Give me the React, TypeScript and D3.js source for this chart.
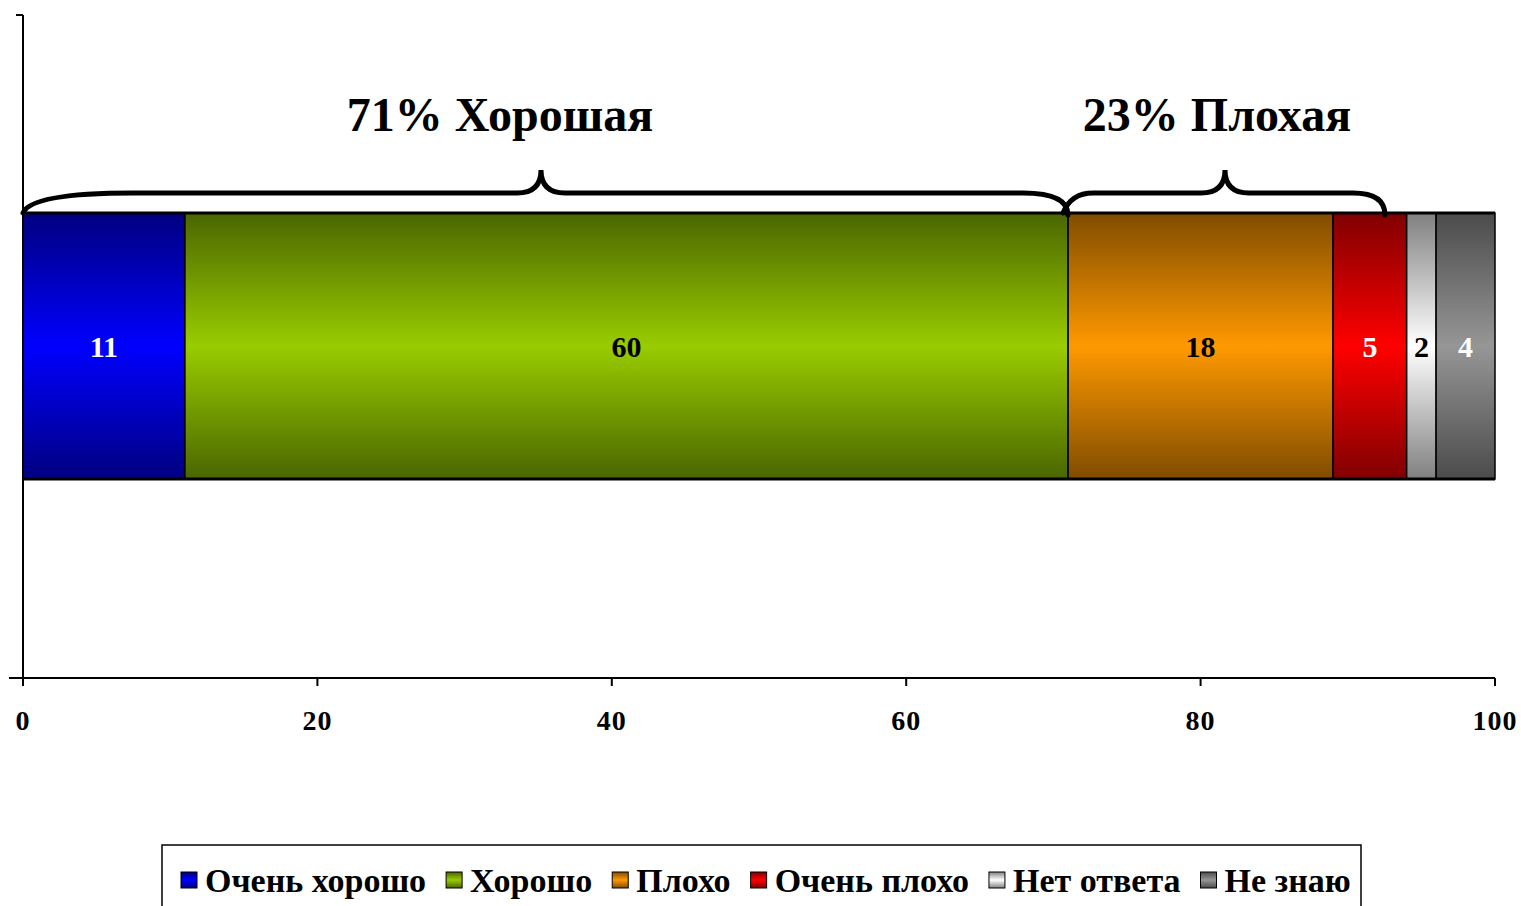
import React, { useEffect, useRef } from "react";
import * as d3 from "d3";

const categories = ["Очень хорошо", "Хорошо", "Плохо", "Очень плохо", "Нет ответа", "Не знаю"];
const values = [11, 60, 18, 5, 2, 4];
const edgeColors = ["#000080", "#4a6600", "#804c00", "#800000", "#808080", "#4b4b4b"];
const midColors = ["#0000ff", "#99cc00", "#ff9900", "#ff0000", "#ffffff", "#969696"];
const labelColors = ["#ffffff", "#000000", "#000000", "#ffffff", "#000000", "#ffffff"];
const xTicks = [0, 20, 40, 60, 80, 100];
const groups = [
  { label: "71% Хорошая", from: 0, to: 71 },
  { label: "23% Плохая", from: 71, to: 93 },
];

export default function App() {
  const ref = useRef<SVGSVGElement>(null);
  useEffect(() => {
    const svg = d3.select(ref.current);
    svg.selectAll("*").remove();
    const font = "'Liberation Serif', 'Times New Roman', serif";
    const x = d3.scaleLinear().domain([0, 100]).range([23, 1495]);
    const barTop = 213, barBot = 479;

    const defs = svg.append("defs");
    categories.forEach((c, i) => {
      const g = defs.append("linearGradient").attr("id", "g" + i).attr("x1", 0).attr("y1", 0).attr("x2", 0).attr("y2", 1);
      g.append("stop").attr("offset", "0%").attr("stop-color", edgeColors[i]);
      g.append("stop").attr("offset", "50%").attr("stop-color", midColors[i]);
      g.append("stop").attr("offset", "100%").attr("stop-color", edgeColors[i]);
    });

    // axes
    svg.append("line").attr("x1", 23).attr("x2", 23).attr("y1", 15).attr("y2", 678).attr("stroke", "#000").attr("stroke-width", 2);
    svg.append("line").attr("x1", 9).attr("x2", 1495).attr("y1", 678).attr("y2", 678).attr("stroke", "#000").attr("stroke-width", 2);
    [15, 678].forEach(v => svg.append("line").attr("x1", 16).attr("x2", 23).attr("y1", v).attr("y2", v).attr("stroke", "#000").attr("stroke-width", 2));
    xTicks.forEach(t => {
      svg.append("line").attr("x1", x(t)).attr("x2", x(t)).attr("y1", 678).attr("y2", 686).attr("stroke", "#000").attr("stroke-width", 2);
      svg.append("text").attr("x", x(t)).attr("y", 730).attr("text-anchor", "middle")
        .attr("font-family", font).attr("font-weight", "bold").attr("font-size", 28).attr("letter-spacing", 1).text(String(t));
    });

    // bars
    let cum = 0;
    const segs = values.map((v, i) => { const s = { i, x0: cum, x1: cum + v, v }; cum += v; return s; });
    segs.forEach(s => {
      svg.append("rect").attr("x", x(s.x0)).attr("y", barTop).attr("width", x(s.x1) - x(s.x0)).attr("height", barBot - barTop)
        .attr("fill", `url(#g${s.i})`).attr("stroke", "#000").attr("stroke-width", 1.5);
      svg.append("text").attr("x", (x(s.x0) + x(s.x1)) / 2).attr("y", (barTop + barBot) / 2 + 11).attr("text-anchor", "middle")
        .attr("font-family", font).attr("font-weight", "bold").attr("font-size", 30).attr("fill", labelColors[s.i]).text(String(s.v));
    });
    svg.append("line").attr("x1", x(0)).attr("x2", x(100)).attr("y1", barTop).attr("y2", barTop).attr("stroke", "#000").attr("stroke-width", 3);
    svg.append("line").attr("x1", x(0)).attr("x2", x(100)).attr("y1", barBot).attr("y2", barBot).attr("stroke", "#000").attr("stroke-width", 3);

    // braces
    const braces = [
      { x1: 23, x2: 1068, xm: 541, rl: 110, rr: 45, y1: 213, y2: 215 },
      { x1: 1063, x2: 1385, xm: 1225, rl: 30, rr: 32, y1: 213, y2: 215 },
    ];
    const yh = 193, yp = 170, pr = 24;
    braces.forEach((b, i) => {
      const p = `M${b.x1},${b.y1} Q${b.x1 + 8},${yh} ${b.x1 + b.rl},${yh} L${b.xm - pr},${yh} Q${b.xm},${yh} ${b.xm},${yp} Q${b.xm},${yh} ${b.xm + pr},${yh} L${b.x2 - b.rr},${yh} Q${b.x2},${yh} ${b.x2},${b.y2}`;
      svg.append("path").attr("d", p).attr("fill", "none").attr("stroke", "#000").attr("stroke-width", 5).attr("stroke-linecap", "round");
      svg.append("text").attr("x", i === 0 ? 500 : 1217).attr("y", 131).attr("text-anchor", "middle")
        .attr("font-family", font).attr("font-weight", "bold").attr("font-size", 48).text(groups[i].label);
    });

    // legend
    const lg = svg.append("g");
    lg.append("rect").attr("x", 162).attr("y", 845).attr("width", 1199).attr("height", 80).attr("fill", "#fff").attr("stroke", "#000").attr("stroke-width", 1.5);
    let lx = 181;
    categories.forEach((c, i) => {
      lg.append("rect").attr("x", lx).attr("y", 872).attr("width", 16).attr("height", 16).attr("fill", `url(#g${i})`).attr("stroke", "#000").attr("stroke-width", 1);
      const t = lg.append("text").attr("x", lx + 24).attr("y", 892).attr("font-family", font).attr("font-weight", "bold").attr("font-size", 34).text(c);
      const w = (t.node() as SVGTextElement).getComputedTextLength();
      lx = lx + 24 + w + 20;
    });
  }, []);
  return <svg ref={ref} width={1521} height={906} style={{ position: "absolute", left: 0, top: 0, background: "#fff" }} />;
}
